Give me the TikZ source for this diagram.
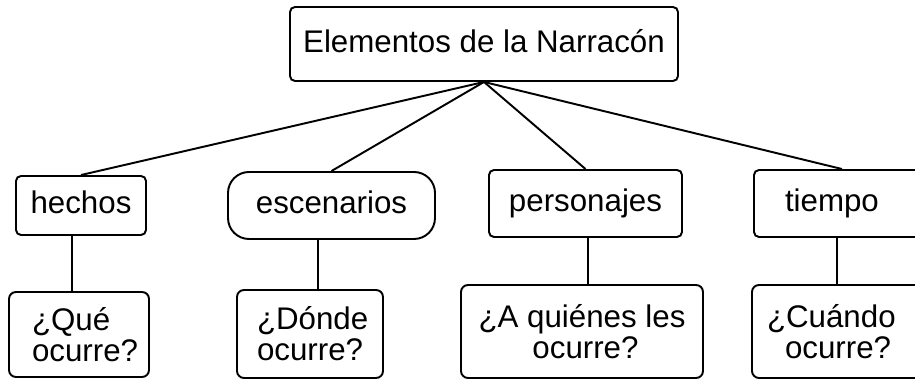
\documentclass[tikz,border=0pt]{standalone}
\usepackage{fontspec}
\setmainfont{Liberation Sans}
\usetikzlibrary{positioning}

\begin{document}
\begin{tikzpicture}[
    box/.style={
        draw,
        line width=1.1pt,
        rounded corners=0.1cm,
        inner sep=0pt,
        align=center,
        font=\fontsize{17.8}{17.8}\selectfont,
    },
    label box/.style={
        box,
        text height=0.48cm,
        text depth=0.14cm,
    },
    answer/.style={
        box,
        rounded corners=0.14cm,
    },
    link/.style={line width=1.1pt},
]
\useasboundingbox (0,0) rectangle (18.3,7.6);

% ----- Top node -----
\node[label box, minimum width=7.76cm, minimum height=1.48cm] (narracion) at (9.68,6.72) {Elementos de la Narracón};

% ----- Elements -----
\node[label box, minimum width=2.6cm, minimum height=1.18cm] (hechos) at (1.62,3.49) {hechos};
\node[label box, rounded corners=0.42cm, minimum width=4.14cm, minimum height=1.34cm] (escenarios) at (6.63,3.49) {escenarios};
\node[label box, minimum width=3.86cm, minimum height=1.34cm] (personajes) at (11.71,3.53) {personajes};
\node[label box, align=left, text width=2.28cm, inner xsep=0.62cm, minimum height=1.34cm] (tiempo) at (16.84,3.53) {tiempo};

% ----- Questions -----
\node[answer, align=left, text width=1.88cm, inner xsep=0.46cm, minimum height=1.7cm] (que) at (1.58,0.91) {¿Qué\\ocurre?};
\node[answer, align=left, text width=2.12cm, inner xsep=0.4cm, minimum height=1.76cm] (donde) at (6.2,0.92) {¿Dónde\\ocurre?};
\node[answer, minimum width=4.84cm, minimum height=1.86cm] (quienes) at (11.64,0.97) {¿A quiénes les\\\hspace*{0.14cm}ocurre?};
\node[answer, align=left, text width=2.96cm, inner xsep=0.3cm, minimum height=1.86cm] (cuando) at (16.82,0.97) {¿Cuándo\\\hspace*{0.36cm}ocurre?};

% ----- Connectors -----
\foreach \kid in {hechos, escenarios, personajes, tiempo}
    \draw[link] (narracion.south) -- (\kid.north);

\draw[link] ([xshift=-0.18cm]hechos.south) -- ([xshift=-0.18cm]hechos.south |- que.north);
\draw[link] ([xshift=-0.27cm]escenarios.south) -- ([xshift=-0.27cm]escenarios.south |- donde.north);
\draw[link] ([xshift=0.05cm]personajes.south) -- ([xshift=0.05cm]personajes.south |- quienes.north);
\draw[link] ([xshift=-0.1cm]tiempo.south) -- ([xshift=-0.1cm]tiempo.south |- cuando.north);

\end{tikzpicture}
\end{document}
